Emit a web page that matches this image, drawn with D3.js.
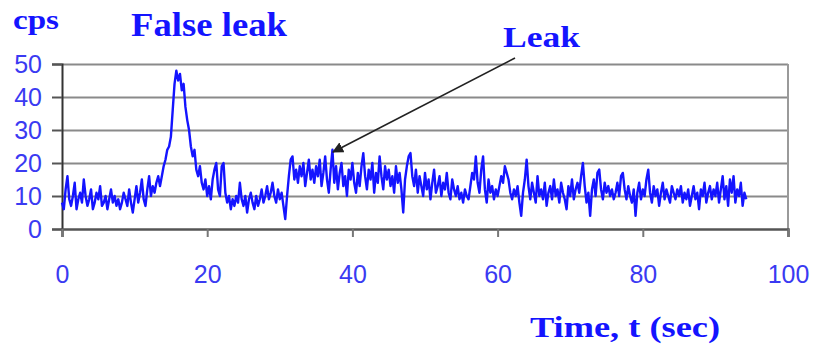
<!DOCTYPE html>
<html>
<head>
<meta charset="utf-8">
<script src="https://cdn.jsdelivr.net/npm/d3@7"></script>
<style>
  body { margin: 0; background: #fff; }
  svg { display: block; }
</style>
</head>
<body>
<svg id="chart" width="815" height="349"></svg>
<script>
// count rate, one value every 0.25 s starting at t = 0
var STEP = 0.25;
var cps = [
  8,6,12,16,9,7,10,14,6,9,11,8,15,10,7,9,12,6,8,11,
  9,13,7,8,10,6,9,12,8,10,7,9,6,8,11,9,7,12,8,5,
  9,13,8,11,15,9,7,12,16,10,13,11,14,16,13,16,19,21,24,25,
  28,36,44,48,45,47,42,44,37,33,30,25,22,24,18,16,19,14,12,15,
  10,13,9,15,18,20,12,10,19,20,11,8,10,6,9,7,10,8,14,9,
  7,10,5,9,11,8,6,10,7,9,12,8,10,13,9,11,14,10,8,12,
  9,11,7,3,10,16,21,22,15,18,14,19,16,20,13,17,21,15,18,14,
  19,16,21,13,17,22,15,11,18,24,14,19,12,17,20,13,16,10,18,15,
  20,14,11,17,13,19,23,16,12,18,15,20,11,17,14,22,16,12,19,15,
  18,13,16,11,19,14,17,12,5,15,19,22,23,16,13,18,11,16,13,10,
  17,12,15,9,14,18,11,13,16,10,14,12,17,11,9,15,12,10,13,9,
  11,8,12,10,9,13,17,15,22,14,11,18,22,12,8,15,11,13,9,12,
  10,13,16,14,19,17,15,11,9,12,10,13,8,4,11,15,21,13,9,14,
  11,8,16,10,12,9,14,7,11,13,9,15,10,12,8,14,11,9,6,13,
  10,15,9,12,14,11,16,20,13,8,11,4,12,15,10,17,18,12,9,14,
  11,13,10,12,9,11,14,10,16,17,12,9,13,10,8,12,4,11,14,9,
  12,10,15,18,11,8,13,10,12,7,11,14,9,12,10,8,13,11,9,12,
  10,13,8,11,9,12,7,10,13,9,11,6,12,10,14,8,11,13,9,12,
  10,14,8,12,16,9,13,7,15,11,16,8,12,10,14,7,11,9
];

var xTicks = [0, 20, 40, 60, 80, 100];
var yTicks = [0, 10, 20, 30, 40, 50];

var BLUE = "#1414ff";
var TICK_BLUE = "#3a3af2";

var svg = d3.select("#chart");
var margin = { left: 62, right: 27, top: 64, bottom: 120 };
var W = 815 - margin.left - margin.right;
var H = 349 - margin.top - margin.bottom;

var x = d3.scaleLinear().domain([0, 100]).range([0, W]);
var y = d3.scaleLinear().domain([0, 50]).range([H, 0]);

var g = svg.append("g").attr("transform", "translate(" + margin.left + "," + margin.top + ")");

// horizontal gridlines
g.append("g")
  .call(d3.axisLeft(y).tickValues(yTicks.slice(1)).tickSize(-W).tickFormat(""))
  .call(function (s) {
    s.select(".domain").remove();
    s.selectAll("line").attr("stroke", "#8a8a8a").attr("stroke-width", 2);
  });

// right border of the plot area
g.append("line")
  .attr("x1", W).attr("x2", W).attr("y1", 0).attr("y2", H)
  .attr("stroke", "#9a9a9a").attr("stroke-width", 2);

// y axis
g.append("g")
  .call(d3.axisLeft(y).tickValues(yTicks).tickSize(10).tickPadding(10))
  .call(function (s) {
    s.select(".domain").attr("stroke", "#333").attr("stroke-width", 2);
    s.selectAll(".tick line").attr("stroke", "#555").attr("stroke-width", 2);
    s.selectAll("text")
      .attr("fill", TICK_BLUE)
      .attr("font-family", "'Liberation Sans', Arial, sans-serif")
      .attr("font-size", 25);
  });

// x axis
g.append("g")
  .attr("transform", "translate(0," + H + ")")
  .call(d3.axisBottom(x).tickValues(xTicks).tickSize(8).tickPadding(28))
  .call(function (s) {
    s.select(".domain").attr("stroke", "#555").attr("stroke-width", 2.5);
    s.selectAll(".tick line").attr("stroke", "#777").attr("stroke-width", 2);
    s.selectAll("text")
      .attr("fill", TICK_BLUE)
      .attr("font-family", "'Liberation Sans', Arial, sans-serif")
      .attr("font-size", 25);
  });

// trace
var line = d3.line()
  .x(function (d, i) { return x(i * STEP); })
  .y(function (d) { return y(d); });

g.append("path")
  .datum(cps)
  .attr("fill", "none")
  .attr("stroke", BLUE)
  .attr("stroke-width", 2.4)
  .attr("stroke-linejoin", "round")
  .attr("d", line);

// arrow pointing at the leak
svg.append("defs").append("marker")
  .attr("id", "head")
  .attr("viewBox", "0 0 10 10")
  .attr("refX", 9).attr("refY", 5)
  .attr("markerWidth", 7).attr("markerHeight", 7)
  .attr("orient", "auto")
  .append("path")
  .attr("d", "M0,0 L10,5 L0,10 z")
  .attr("fill", "#222");

svg.append("line")
  .attr("x1", 515).attr("y1", 58)
  .attr("x2", 333).attr("y2", 152)
  .attr("stroke", "#222")
  .attr("stroke-width", 1.6)
  .attr("marker-end", "url(#head)");

// serif bold labels
function label(txt, lx, ly, size, width) {
  svg.append("text")
    .attr("x", lx).attr("y", ly)
    .attr("fill", BLUE)
    .attr("font-family", "'Liberation Serif', 'Times New Roman', serif")
    .attr("font-weight", "bold")
    .attr("font-size", size)
    .attr("textLength", width)
    .attr("lengthAdjust", "spacingAndGlyphs")
    .text(txt);
}

label("cps", 13, 29, 28, 46);
label("False leak", 131, 36, 33, 156);
label("Leak", 503, 47, 30, 77);
label("Time, t (sec)", 530, 337, 30, 190);
</script>
</body>
</html>
